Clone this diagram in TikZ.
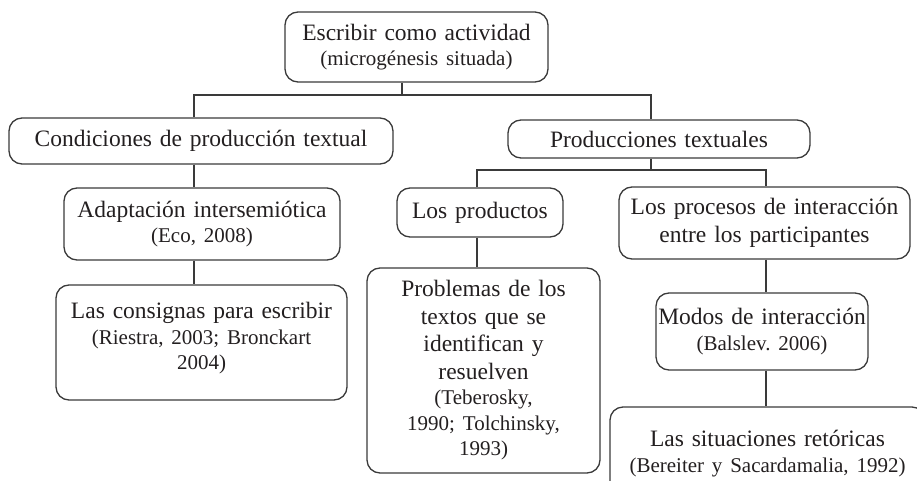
\documentclass[tikz,border=0pt]{standalone}
\usepackage{fontspec}
\setmainfont{Liberation Serif}
\frenchspacing
\definecolor{linec}{HTML}{3A3A3A}
\definecolor{textc}{HTML}{231F20}
\newcommand\mainsz{\fontsize{23.5}{27.5}\selectfont}
\newcommand\citsz{\fontsize{21}{25.5}\selectfont}
\begin{document}
\begin{tikzpicture}[x=1pt,y=-1pt,
  box/.style={draw=linec, line width=1.3pt, rounded corners=13pt, align=center,
    inner xsep=0pt, inner ysep=0pt, text=textc, font=\mainsz},
  conn/.style={draw=linec, line width=1.3pt}]
\useasboundingbox (0,0) rectangle (917,481);
\clip (0,0) rectangle (917,481);

\node[box, text width=263pt, minimum height=70pt] (top) at (416.5,47)
  {Escribir como actividad\par{\citsz (microgénesis situada)\par}};
\node[box, text width=384pt, minimum height=46pt] (cond) at (201,141)
  {Condiciones de producción textual};
\node[box, text width=302pt, minimum height=38pt] (prod) at (659,139)
  {Producciones textuales};
\node[box, text width=276pt, minimum height=72pt] (adapt) at (202,224)
  {Adaptación intersemiótica\par{\citsz (Eco, 2008)\par}};
\node[box, text width=291pt, minimum height=115pt] (consig) at (201.5,342.5)
  {Las consignas para escribir\par{\citsz (Riestra, 2003; Bronckart\\2004)\par}\vspace{8pt}};
\node[box, text width=166pt, minimum height=49pt] (productos) at (480,212.5)
  {Los productos};
\node[box, text width=291pt, minimum height=72pt] (procesos) at (764.5,223)
  {Los procesos de interacción\\entre los participantes};
\node[box, text width=233pt, minimum height=205pt] (problemas) at (483.5,370.5)
  {Problemas de los\\textos que se\\identifican y\\resuelven\par{\citsz (Teberosky,\\1990; Tolchinsky,\\1993)\par}};
\node[box, text width=212pt, minimum height=77pt] (modos) at (762,331.5)
  {Modos de interacción\par{\citsz (Balslev. 2006)\par}};
\node[box, text width=315pt, minimum height=93pt] (situ) at (767.5,453.5)
  {Las situaciones retóricas\par{\citsz (Bereiter y Sacardamalia, 1992)\par}};

\coordinate (colA) at (194,0);
\coordinate (colL) at (477,0);
\coordinate (colR) at (766,0);
\coordinate (busT) at (402,95);
\coordinate (busP) at (651,170);

\draw[conn] (top.south -| busT) -- (busT);
\draw[conn] (cond.north -| colA) |- (busT) -| (prod.north -| busP);
\draw[conn] (cond.south -| colA) -- (adapt.north -| colA);
\draw[conn] (adapt.south -| colA) -- (consig.north -| colA);
\draw[conn] (prod.south -| busP) -- (busP);
\draw[conn] (productos.north -| colL) |- (busP) -| (procesos.north -| colR);
\draw[conn] (productos.south -| colL) -- (problemas.north -| colL);
\draw[conn] (procesos.south -| colR) -- (modos.north -| colR);
\draw[conn] (modos.south -| colR) -- (situ.north -| colR);
\end{tikzpicture}
\end{document}
